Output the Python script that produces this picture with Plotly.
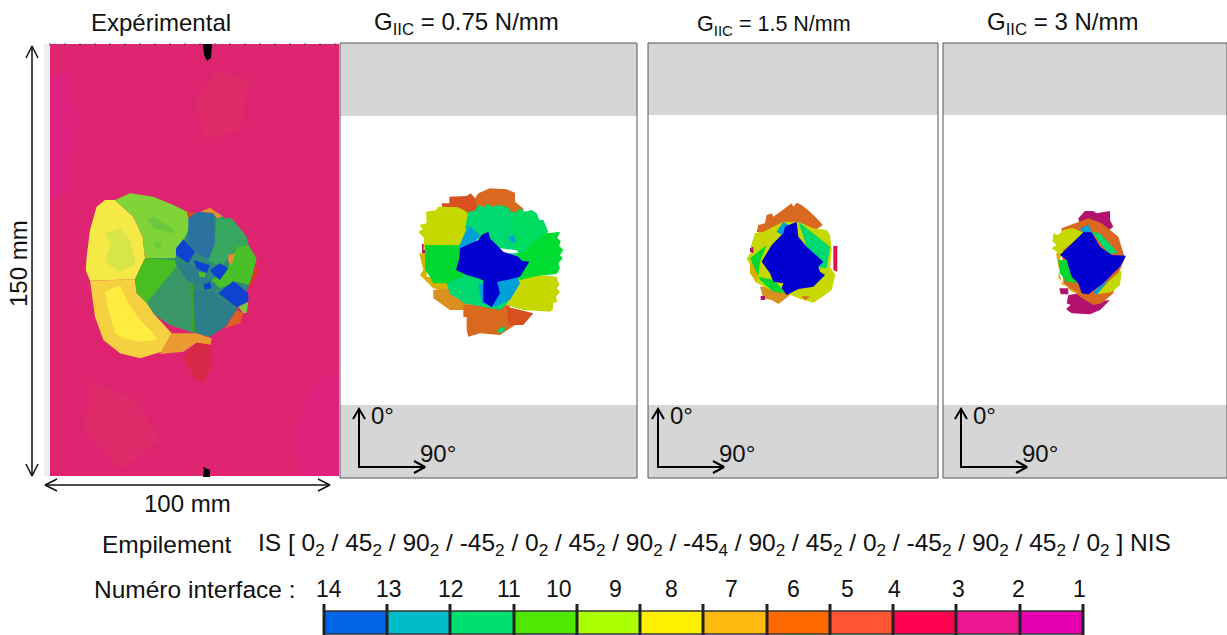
import plotly.graph_objects as go

W, H = 1227, 635
FONT = "Liberation Sans"

# ---- regions: (colour, outline)
exp_regions = [
 ("#2E8A78", [(410,240),(450,130),(540,130),(625,220),(630,340),(590,420),(510,500),(390,465),(320,400),(290,330),(320,265)]),
 ("#F5EA45", [(225,90),(195,90),(170,110),(150,180),(140,260),(137,300),(150,332),(285,328),(315,265),(308,200),(280,140)]),
 ("#D8E548", [(195,190),(240,175),(270,210),(288,285),(240,305),(195,275),(212,220)]),
 ("#F5D040", [(150,332),(285,328),(290,370),(325,400),(340,430),(395,490),(365,545),(300,565),(240,550),(190,510),(165,440)]),
 ("#FFEC40", [(195,365),(240,345),(265,400),(300,450),(340,490),(350,510),(300,515),(250,505),(225,490),(205,420)]),
 ("#80D438", [(225,90),(270,70),(340,80),(400,105),(450,130),(445,180),(405,265),(315,265),(308,200),(280,140)]),
 ("#6CC83C", [(320,145),(345,140),(405,180),(395,190),(340,175)]),
 ("#6CC83C", [(343,215),(362,215),(365,232),(345,237)]),
 ("#48BE20", [(315,265),(405,270),(410,290),(320,400),(290,370),(285,328)]),
 ("#3A9868", [(320,400),(410,290),(450,280),(465,490),(390,465),(345,435)]),
 ("#38A820", [(450,280),(460,360),(465,490),(455,480)]),
 ("#2E7E8A", [(460,360),(520,365),(590,420),(555,470),(510,500),(465,490)]),
 ("#38A860", [(530,145),(575,145),(620,200),(625,225),(590,230),(545,290),(500,270),(525,200)]),
 ("#48C028", [(625,225),(650,265),(630,345),(590,335),(540,355),(515,330),(560,300),(590,230)]),
 ("#2A72A0", [(445,140),(480,125),(520,130),(525,220),(505,270),(470,250),(445,220)]),
 ("#2E7E8A", [(410,285),(450,280),(500,310),(510,340),(470,345),(440,330)]),
 ("#0E42D0", [(430,208),(465,245),(445,280),(408,255),(408,235)]),
 ("#0E42D0", [(535,370),(580,333),(625,370),(625,395),(590,412)]),
 ("#0E42D0", [(510,300),(540,280),(565,295),(540,330),(520,315)]),
 ("#0E42D0", [(460,270),(510,285),(500,310),(470,295)]),
 ("#0E42D0", [(490,345),(510,335),(515,355),(495,360)]),
 ("#48C028", [(475,305),(498,308),(495,322),(478,320)]),
 ("#D83A20", [(648,290),(655,300),(630,355),(627,345)]),
 ("#DC6028", [(590,420),(610,430),(600,460),(555,475)]),
 ("#7CC83C", [(595,410),(625,395),(620,428),(610,430)]),
 ("#E88C30", [(480,125),(510,113),(550,140),(530,145),(520,130)]),
 ("#D8501E", [(440,125),(465,128),(445,145)]),
 ("#EA9A30", [(395,490),(470,490),(515,505),(512,525),(470,518),(430,545),(360,552),(385,510)]),
 ("#D82848", [(470,518),(512,525),(515,590),(490,640),(460,620),(430,560)]),
 ("#E88C30", [(565,255),(585,250),(575,285),(565,275)]),
]

p1_regions = [
 ("#D9691F", [(225,85),(235,70),(270,55),(320,58),(345,68),(345,95),(372,118),(330,140),(225,140)]),
 ("#D8501E", [(125,100),(148,100),(148,80),(200,78),(212,70),(225,85),(235,135),(130,135)]),
 ("#B3116E", [(66,222),(78,222),(78,250),(66,250)]),
 ("#C6D800", [(78,125),(108,120),(115,110),(175,112),(200,125),(215,150),(205,200),(185,240),(70,240),(72,205),(55,185),(68,178),(58,165),(80,160)]),
 ("#D8B000", [(58,250),(80,250),(80,320),(150,330),(150,370),(100,355),(60,315),(70,300)]),
 ("#D8901E", [(100,360),(145,355),(215,395),(225,420),(150,420),(130,405),(100,385)]),
 ("#D9691F", [(190,405),(330,405),(325,465),(345,465),(300,495),(240,490),(205,500),(200,480),(200,442),(190,440)]),
 ("#D8501E", [(320,410),(400,430),(370,465),(325,465)]),
 ("#00D870", [(160,250),(370,250),(370,360),(300,420),(190,400),(140,340)]),
 ("#C6D800", [(345,330),(410,315),(470,320),(478,345),(470,355),(480,365),(468,380),(472,395),(460,400),(458,420),(450,425),(370,420),(320,405)]),
 ("#00DC30", [(360,230),(420,175),(445,190),(480,185),(472,205),(482,212),(478,228),(490,240),(480,255),(488,265),(475,280),(480,295),(470,312),(410,318),(360,330),(340,280)]),
 ("#00DC60", [(320,125),(350,125),(360,115),(375,125),(395,120),(410,130),(418,150),(430,150),(445,185),(400,215),(370,250),(320,230)]),
 ("#00D870", [(205,125),(225,122),(235,105),(255,112),(262,100),(275,110),(300,105),(330,115),(345,240),(260,230),(195,175)]),
 ("#00D830", [(75,225),(190,225),(190,330),(165,340),(100,340),(90,320),(75,300)]),
 ("#00D870", [(140,340),(170,325),(215,320),(255,370),(245,400),(190,395),(150,372)]),
 ("#00A0D8", [(205,165),(240,195),(210,240),(175,235)]),
 ("#00A0D8", [(325,200),(340,195),(348,215),(335,218)]),
 ("#00A0D8", [(270,345),(350,315),(360,340),(330,390),(285,410),(245,400),(235,340)]),
 ("#00D870", [(292,480),(312,468),(315,480),(298,492)]),
 ("#0000D0", [(180,235),(235,210),(245,195),(265,185),(270,205),(280,215),(310,245),(355,260),(365,272),(388,275),(360,320),(320,330),(270,340),(235,325),(200,315),(168,300),(178,265)]),
 ("#0000D0", [(250,330),(290,330),(300,370),(275,412),(250,395)]),
]

p2_regions = [
 ("#D9691F", [(80,125),(85,105),(105,100),(110,75),(125,70),(130,80),(165,55),(185,40),(190,50),(200,38),(215,45),(240,65),(270,95),(278,105),(250,125),(200,120),(120,140)]),
 ("#D8901E", [(90,290),(160,290),(200,300),(160,330),(145,342),(125,330),(100,325)]),
 ("#C6D800", [(75,130),(100,125),(160,95),(205,95),(250,115),(290,120),(300,135),(305,180),(300,230),(316,255),(305,300),(285,315),(250,338),(205,325),(170,310),(120,300),(75,275),(60,225),(50,205),(68,180),(62,170)]),
 ("#D8B000", [(60,220),(82,220),(82,280),(60,250)]),
 ("#00D830", [(60,205),(110,165),(90,215),(85,260),(130,270),(170,310),(130,305),(90,270)]),
 ("#00D870", [(205,95),(250,130),(300,170),(290,235),(250,230)]),
 ("#00A0D8", [(160,95),(185,110),(155,135),(140,125)]),
 ("#0000D0", [(200,95),(205,140),(230,170),(280,215),(265,230),(270,245),(285,255),(250,290),(205,297),(170,315),(155,295),(160,280),(130,275),(120,250),(95,215),(115,180),(125,165),(160,130),(165,110)]),
 ("#E0104A", [(310,168),(322,168),(322,245),(310,240)]),
 ("#B3116E", [(92,318),(105,318),(105,330),(92,330)]),
 ("#B3116E", [(60,175),(70,170),(70,190),(60,185)]),
 ("#D9691F", [(215,318),(240,320),(225,330)]),
]

p3_regions = [
 ("#B3116E", [(145,70),(165,48),(190,48),(200,55),(240,48),(240,75),(250,95),(230,110),(180,95),(150,95)]),
 ("#B3116E", [(115,300),(150,295),(200,320),(240,315),(210,345),(180,358),(125,355),(108,342),(122,330),(110,325)]),
 ("#B3116E", [(88,280),(115,280),(115,298),(92,298)]),
 ("#D9691F", [(95,100),(120,90),(175,70),(215,85),(265,125),(285,190),(255,260),(250,295),(215,325),(190,330),(150,305),(100,265)]),
 ("#C6D800", [(70,115),(85,120),(100,105),(120,100),(130,100),(165,115),(100,165),(92,190),(80,170),(65,160),(80,150),(68,140)]),
 ("#C6D800", [(275,225),(270,270),(245,292),(200,298),(240,255)]),
 ("#D8B000", [(78,175),(92,175),(85,250),(125,290),(150,295),(95,268)]),
 ("#00D870", [(185,110),(210,115),(265,175),(235,175)]),
 ("#00D830", [(85,195),(110,195),(125,245),(145,265),(110,260),(90,235)]),
 ("#00A0D8", [(150,100),(175,90),(185,110),(160,115)]),
 ("#00A0D8", [(190,290),(240,250),(200,300)]),
 ("#0000D0", [(160,112),(185,112),(210,155),(245,180),(288,182),(270,215),(220,265),(175,298),(155,295),(145,265),(125,245),(110,195),(90,180)]),
]

pink_patches = [
 ("#DF227E", [(50,75),(68,72),(78,120),(70,190),(50,200)]),
 ("#DF227E", [(312,385),(339,370),(339,476),(300,476),(296,430)]),
 ("#DD2A68", [(90,380),(135,400),(160,440),(120,470),(85,430)]),
 ("#DD2A68", [(215,70),(250,80),(240,130),(205,140),(195,100)]),
]

# ---- frames
specimen_x = [50, 339]
specimen_y = [44, 476]
panel_left = [340, 648, 943]
panel_right = [637, 938, 1227]
panel_top = [43, 43, 43]
panel_bottom = [478, 478, 478]
band_top_end = [116, 115, 115]
band_bottom_start = [405, 405, 405]
compass_x = [359, 658, 961]

# ---- colour key
key_edges = [324, 387, 450, 514, 577, 640, 703, 767, 830, 893, 956, 1020, 1083]
key_colors = ["#0064E6", "#00BCC8", "#00E070", "#50E800", "#AAFF00", "#FFF000", "#FFB90F", "#FF6A00", "#FF5535", "#FF0050", "#EE1590", "#E600B0"]
key_labels = ["14","13","12","11","10","9","8","7","6","5","4","3","2","1"]
key_label_x = [329, 389, 451, 509, 559, 615, 671, 731, 793, 847, 894, 958, 1018, 1079]

texts = [
 ("Expérimental", 161, 22, 24),
 ("G<sub>IIC</sub> = 0.75 N/mm", 466, 23, 24),
 ("G<sub>IIC</sub> = 1.5 N/mm", 774, 25, 21.5),
 ("G<sub>IIC</sub> = 3 N/mm", 1062, 23, 24),
 ("100 mm", 187, 503, 24),
 ("Empilement", 167, 544, 24.5),
 ("IS [ 0<sub>2</sub> / 45<sub>2</sub> / 90<sub>2</sub> / -45<sub>2</sub> / 0<sub>2</sub> / 45<sub>2</sub> / 90<sub>2</sub> / -45<sub>4</sub> / 90<sub>2</sub> / 45<sub>2</sub> / 0<sub>2</sub> / -45<sub>2</sub> / 90<sub>2</sub> / 45<sub>2</sub> / 0<sub>2</sub> ] NIS", 714, 544, 24.5),
 ("Numéro interface :", 195, 589, 24.5),
]

fig = go.Figure()

def poly(xs, ys, color):
    fig.add_trace(go.Scatter(x=xs, y=ys, mode="lines", fill="toself", fillcolor=color,
                             line=dict(width=0, color=color), hoverinfo="skip", showlegend=False))

def rect(x0, x1, y0, y1, color):
    poly([x0, x1, x1, x0, x0], [y0, y0, y1, y1, y0], color)

def line(xs, ys, color="#000000", width=2):
    fig.add_trace(go.Scatter(x=xs, y=ys, mode="lines", line=dict(width=width, color=color),
                             hoverinfo="skip", showlegend=False))

def regions(items, ox, oy, scale=3):
    for color, pts in items:
        poly([ox + p[0] / scale for p in pts] + [ox + pts[0][0] / scale],
             [oy + p[1] / scale for p in pts] + [oy + pts[0][1] / scale], color)

def label(s, x, y, size, anchor="center"):
    fig.add_annotation(x=x, y=y, text=s, showarrow=False, xanchor=anchor, yanchor="middle",
                       font=dict(family=FONT, size=size, color="#111111"))

# specimen
rect(44, specimen_x[0], specimen_y[0], specimen_y[1], "#EFEFEF")
rect(specimen_x[0], specimen_x[1], specimen_y[0], specimen_y[1], "#DE2470")
regions(pink_patches, 0, 0, 1)
regions(exp_regions, 40, 170)
poly([203, 212, 211, 207, 204], [44, 44, 58, 61, 55], "#000000")
poly([203, 210, 210, 203, 204], [477, 477, 470, 467, 470], "#000000")
for tx in range(50, 339, 15):
    line([tx, tx], [43, 46], "#555555", 1)

# simulation panels
for i in range(3):
    l, r = panel_left[i], panel_right[i]
    t, b = panel_top[i], panel_bottom[i]
    rect(l, r, t, b, "#FFFFFF")
    rect(l, r, t, band_top_end[i], "#D6D6D6")
    rect(l, r, band_bottom_start[i], b, "#D6D6D6")
regions(p1_regions, 400, 170)
regions(p2_regions, 730, 190)
regions(p3_regions, 1030, 195)
for i in range(3):
    l, r = panel_left[i], panel_right[i]
    t, b = panel_top[i], panel_bottom[i]
    line([l, r, r, l, l], [t, t, b, b, t], "#555555", 1)
    ax = compass_x[i]
    line([ax, ax, ax + 65], [411, 467, 467])
    line([ax - 6, ax, ax + 6], [419, 409, 419])
    line([ax + 55, ax + 66, ax + 55], [461, 467, 473])
    label("0°", ax + 10, 415, 24, "left")
    label("90°", ax + 59, 453, 24, "left")

# dimension arrows
line([32, 32], [48, 474], "#111111", 1.5)
line([26, 32, 38], [58, 46, 58], "#111111", 1.5)
line([26, 32, 38], [464, 476, 464], "#111111", 1.5)
line([46, 329], [485, 485], "#111111", 1.5)
line([57, 45, 57], [479, 485, 491], "#111111", 1.5)
line([318, 330, 318], [479, 485, 491], "#111111", 1.5)
fig.add_annotation(x=18, y=264, text="150 mm", textangle=-90, showarrow=False,
                   font=dict(family=FONT, size=24, color="#111111"))

for s, x, y, size in texts:
    label(s, x, y, size)

# colour key
for i, c in enumerate(key_colors):
    rect(key_edges[i], key_edges[i + 1], 611, 634, c)
line([key_edges[0], key_edges[-1]], [611, 611], "#333333", 1.5)
line([key_edges[0], key_edges[-1]], [634, 634], "#333333", 1.5)
for e in key_edges:
    line([e, e], [604, 635], "#222222", 3)
for s, x in zip(key_labels, key_label_x):
    label(s, x, 589, 23)

fig.update_layout(
    width=W, height=H, margin=dict(l=0, r=0, t=0, b=0),
    paper_bgcolor="#FFFFFF", plot_bgcolor="#FFFFFF", showlegend=False,
    xaxis=dict(range=[0, W], visible=False, fixedrange=True),
    yaxis=dict(range=[H, 0], visible=False, fixedrange=True),
)
fig.write_html("out.html", config=dict(displayModeBar=False),
               post_script="document.body.style.margin='0';")
